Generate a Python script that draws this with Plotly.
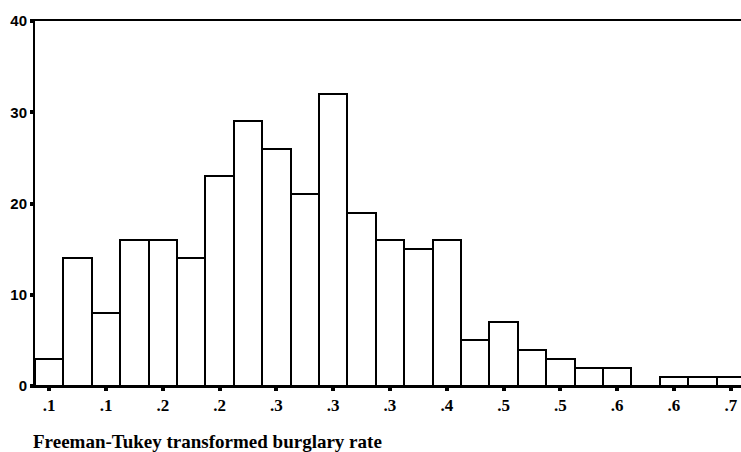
import plotly.graph_objects as go

bin_index = list(range(25))
counts = [3, 14, 8, 16, 16, 14, 23, 29, 26, 21, 32, 19, 16, 15, 16, 5, 7, 4, 3, 2, 2, 0, 1, 1, 1]
tick_positions = [0, 2, 4, 6, 8, 10, 12, 14, 16, 18, 20, 22, 24]
tick_labels = [".1", ".1", ".2", ".2", ".3", ".3", ".3", ".4", ".5", ".5", ".6", ".6", ".7"]
y_ticks = [0, 10, 20, 30, 40]
x_title = "Freeman-Tukey transformed burglary rate"

fig = go.Figure(go.Bar(
    x=bin_index, y=counts, width=1,
    marker=dict(color="white", line=dict(color="black", width=2)),
))

fig.update_layout(
    width=741, height=452,
    margin=dict(l=35, r=0, t=21, b=66),
    plot_bgcolor="white", paper_bgcolor="white",
    showlegend=False,
    bargap=0,
)
fig.update_xaxes(
    range=[-0.5, 24.36], automargin=False,
    tickmode="array", tickvals=tick_positions, ticktext=tick_labels,
    ticks="outside", ticklen=3, tickwidth=4, tickcolor="black",
    showline=True, linecolor="black", linewidth=2, mirror=True,
    showgrid=False, zeroline=False,
    tickfont=dict(family="Liberation Serif", size=17, color="black", weight="bold"),
)
fig.update_yaxes(
    range=[0, 40], automargin=False,
    tickmode="array", tickvals=y_ticks,
    ticks="outside", ticklen=3, tickwidth=4, tickcolor="black",
    showline=True, linecolor="black", linewidth=2,
    showgrid=False, zeroline=False,
    tickfont=dict(family="Liberation Sans", size=15, color="black", weight="bold"),
)
fig.add_annotation(
    text=x_title, xref="paper", yref="paper", x=-0.005, y=-0.151,
    xanchor="left", yanchor="middle", showarrow=False,
    font=dict(family="Liberation Serif", size=19, color="black", weight="bold"),
)
fig.write_html(
    "out.html",
    config={"displayModeBar": False},
    post_script="document.body.style.margin='0';document.body.style.overflow='hidden';",
)
